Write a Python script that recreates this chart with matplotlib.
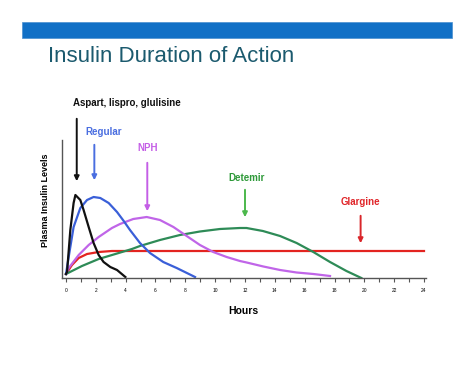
import matplotlib
matplotlib.use("Agg")
from matplotlib import pyplot as plt
from matplotlib.patches import Rectangle

plt.rcParams['font.family'] = ['Liberation Sans', 'DejaVu Sans']

# curve data (hours, plasma level in arbitrary units)
aspart_h = [0, 0.07, 0.29, 0.51, 0.63, 0.96, 1.18, 1.52, 1.85, 2.19, 2.52, 2.97, 3.42, 3.98]
aspart_v = [4, 6, 48, 75, 83, 78, 68, 51, 35, 23, 16, 11, 8, 1]

regular_h = [0, 0.18, 0.51, 0.96, 1.41, 1.85, 2.3, 2.86, 3.42, 3.87, 4.29, 4.96, 5.63,
             6.52, 7.42, 8.65]
regular_v = [4, 21, 51, 70, 78, 81, 80, 75, 66, 57, 48, 35, 25, 16, 10, 1]

nph_h = [0, 0.18, 0.85, 1.52, 2.19, 3.08, 3.62, 4.51, 5.41, 6.3, 7.2, 8.09, 8.98, 9.87,
         10.77, 11.66, 12.11, 13.23, 14.35, 15.46, 16.58, 17.7]
nph_v = [4, 10, 23, 33, 41, 50, 54, 59, 61, 58, 51, 42, 33, 26, 21, 17, 15.5, 11.5, 8, 5.5, 4, 2]

detemir_h = [0, 1.07, 2.19, 3.31, 4.42, 4.96, 6.3, 7.64, 8.98, 10.32, 11.66, 12.1, 13.2,
             14.35, 15.46, 16.58, 17.7, 18.8, 19.8]
detemir_v = [4, 12, 19, 24, 29, 32, 38, 43, 46.5, 49, 50, 50, 47, 42, 35, 26, 16, 7, 0]

glargine_h = [0, 0.4, 0.85, 1.41, 2.19, 3.08, 24]
glargine_v = [4, 13, 20, 24, 26, 27, 27]

hour_ticks = list(range(0, 25))
hour_labels = [str(h) if h % 2 == 0 else '' for h in hour_ticks]

# label text, label position (hours, level), arrow top, arrow tip
labels = ['Aspart, lispro, glulisine', 'Regular', 'NPH', 'Detemir', 'Glargine']
label_x = [4.1, 2.55, 5.5, 12.1, 19.75]
label_y = [175, 146, 130, 100, 76]
arrow_x = [0.72, 1.9, 5.45, 12.0, 19.75]
arrow_top = [162, 136, 118, 91, 65]
arrow_tip = [94, 95, 64, 58, 32]
text_colors = ['#111111', '#4a6ee0', '#c45ee6', '#2f9a3a', '#e0262a']
arrow_colors = ['#111111', '#4a6ee0', '#c45ee6', '#4cb84c', '#d9262a']

fig = plt.figure(figsize=(4.74, 3.66), dpi=100)

# header bar and title
fig.add_artist(Rectangle((22/474, 1-38/366), 430/474, 16/366,
                         transform=fig.transFigure, facecolor='#1170c6',
                         edgecolor='#4a8fd0', lw=0.5))
fig.text(48/474, 1-57/366, 'Insulin Duration of Action', fontsize=16,
         color='#1b5a6e', va='center', ha='left')

ax = fig.add_axes([62/474, 88/366, 364/474, 138/366])
ax.set_xlim(-0.268, 24.134)
ax.set_ylim(0, 138)

ax.plot(glargine_h, glargine_v, color='#e32420', lw=1.6)
ax.plot(detemir_h, detemir_v, color='#2e8b57', lw=1.6)
ax.plot(nph_h, nph_v, color='#c065e8', lw=1.6)
ax.plot(regular_h, regular_v, color='#3a5fd8', lw=1.6)
ax.plot(aspart_h, aspart_v, color='#111111', lw=1.6)

for txt, lx, ly, ax_x, top, tip, tc, ac in zip(labels, label_x, label_y, arrow_x,
                                               arrow_top, arrow_tip, text_colors, arrow_colors):
    ax.text(lx, ly, txt, color=tc, fontsize=7, fontweight='bold',
            ha='center', va='center', clip_on=False)
    ax.annotate('', xy=(ax_x, tip), xytext=(ax_x, top), annotation_clip=False,
                arrowprops=dict(arrowstyle='-|>', color=ac, lw=1.4, mutation_scale=7))

for s in ['top', 'right']:
    ax.spines[s].set_visible(False)
for s in ['left', 'bottom']:
    ax.spines[s].set_color('#555555')
    ax.spines[s].set_linewidth(1.0)

ax.set_xticks(hour_ticks)
ax.set_xticklabels(hour_labels, fontsize=3.5)
ax.tick_params(axis='x', direction='out', length=3, width=0.8, color='#555555', pad=4)
ax.set_yticks([])

fig.text(45/474, 1-200/366, 'Plasma Insulin Levels', rotation=90, fontsize=6.5,
         fontweight='bold', ha='center', va='center')
fig.text(243/474, 1-311/366, 'Hours', fontsize=7.5, fontweight='bold',
         ha='center', va='center')

fig.savefig('out.png', dpi=100)
